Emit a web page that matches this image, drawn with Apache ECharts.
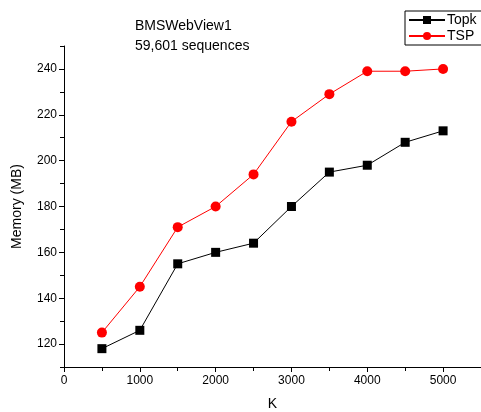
<!DOCTYPE html>
<html>
<head>
<meta charset="utf-8">
<script src="https://cdn.jsdelivr.net/npm/echarts@6/dist/echarts.min.js"></script>
<style>
  html, body { margin: 0; padding: 0; background: #fff; }
  #chart { width: 481px; height: 412px; }
</style>
</head>
<body>
<div id="chart"></div>
<script>
// K values (x) and memory usage in MB for each method
const kValues = [500, 1000, 1500, 2000, 2500, 3000, 3500, 4000, 4500, 5000];
const topkMemory = [118, 126, 155, 160, 164, 180, 195, 198, 208, 213];
const tspMemory = [125, 145, 171, 180, 194, 217, 229, 239, 239, 240];

// Axis ticks
const xMajorTicks = [0, 1000, 2000, 3000, 4000, 5000];
const xMinorTicks = [500, 1500, 2500, 3500, 4500, 5500];
const yMajorTicks = [120, 140, 160, 180, 200, 220, 240];
const yMinorTicks = [110, 130, 150, 170, 190, 210, 230, 250];

const FONT = 'Liberation Sans, Arial, sans-serif';
const chart = echarts.init(document.getElementById('chart'), null, { renderer: 'canvas' });

const baseX = { type: 'value', min: 0, max: 5500, gridIndex: 0, splitLine: { show: false } };
const baseY = { type: 'value', min: 110, max: 250, gridIndex: 0, splitLine: { show: false } };

chart.setOption({
  animation: false,
  backgroundColor: '#fff',
  textStyle: { fontFamily: FONT },
  title: {
    text: 'BMSWebView1\n59,601 sequences',
    left: 130, top: 11,
    textStyle: { fontFamily: FONT, fontSize: 14, fontWeight: 'normal', color: '#000', lineHeight: 20 }
  },
  legend: {
    orient: 'vertical',
    left: 405, top: 11,
    padding: [2, 12, 2, 3],
    itemGap: 2,
    itemWidth: 36, itemHeight: 10,
    borderColor: '#000', borderWidth: 1, borderRadius: 0,
    textStyle: { fontFamily: FONT, fontSize: 14, color: '#000', padding: [0, 0, 0, -3] },
    data: ['Topk', 'TSP']
  },
  grid: { left: 64, right: 0, top: 46, bottom: 45, containLabel: false, outerBoundsMode: 'none' },
  xAxis: [
    Object.assign({}, baseX, {
      name: 'K', nameLocation: 'middle', nameGap: 30,
      nameTextStyle: { fontFamily: FONT, fontSize: 14, color: '#000' },
      axisLine: { show: true, onZero: false, lineStyle: { color: '#000', width: 1 } },
      axisTick: { show: true, length: 5, customValues: xMajorTicks, lineStyle: { color: '#000' } },
      axisLabel: {
        customValues: xMajorTicks, fontFamily: FONT, fontSize: 12, color: '#000', margin: 8,
        formatter: v => String(v)
      }
    }),
    Object.assign({}, baseX, {
      position: 'bottom',
      axisLine: { show: false, onZero: false },
      axisTick: { show: true, length: 4, customValues: xMinorTicks, lineStyle: { color: '#000' } },
      axisLabel: { show: false }
    })
  ],
  yAxis: [
    Object.assign({}, baseY, {
      name: 'Memory (MB)', nameLocation: 'middle', nameGap: 40,
      nameTextStyle: { fontFamily: FONT, fontSize: 14, color: '#000' },
      axisLine: { show: true, onZero: false, lineStyle: { color: '#000', width: 1 } },
      axisTick: { show: true, length: 5, customValues: yMajorTicks, lineStyle: { color: '#000' } },
      axisLabel: {
        customValues: yMajorTicks, fontFamily: FONT, fontSize: 12, color: '#000', margin: 7,
        formatter: v => String(v)
      }
    }),
    Object.assign({}, baseY, {
      position: 'left',
      axisLine: { show: false, onZero: false },
      axisTick: { show: true, length: 4, customValues: yMinorTicks, lineStyle: { color: '#000' } },
      axisLabel: { show: false }
    })
  ],
  series: [
    {
      name: 'Topk', type: 'line', xAxisIndex: 0, yAxisIndex: 0,
      data: kValues.map((k, i) => [k, topkMemory[i]]),
      symbol: 'rect', symbolSize: 9,
      lineStyle: { color: '#000', width: 1 },
      itemStyle: { color: '#000' }
    },
    {
      name: 'TSP', type: 'line', xAxisIndex: 0, yAxisIndex: 0,
      data: kValues.map((k, i) => [k, tspMemory[i]]),
      symbol: 'circle', symbolSize: 10,
      lineStyle: { color: '#ff0000', width: 1 },
      itemStyle: { color: '#ff0000' }
    }
  ]
});
</script>
</body>
</html>
